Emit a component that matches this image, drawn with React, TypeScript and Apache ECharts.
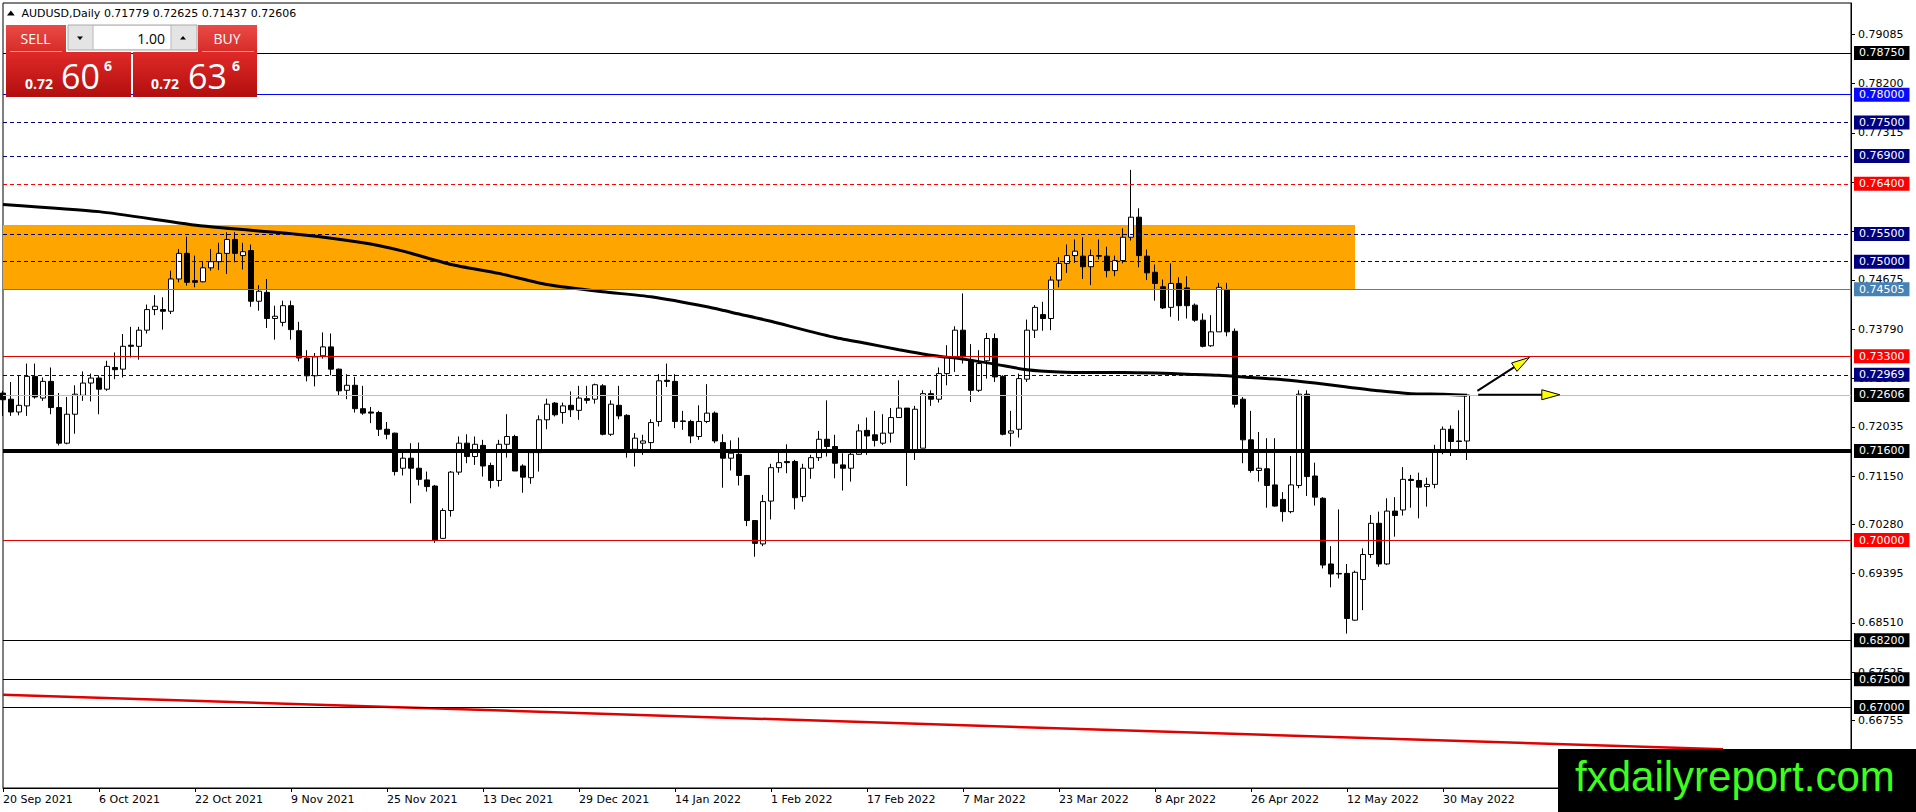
import React, { useEffect, useRef } from "react";
import * as echarts from "echarts";

// ---------------- data ----------------
const symbolName = "AUDUSD";
const timeframe = "Daily";
const bidPrice = 0.72606;
const askPrice = 0.72636;
const lotSize = "1.00";

const xTickLabels = [
  "20 Sep 2021", "6 Oct 2021", "22 Oct 2021", "9 Nov 2021", "25 Nov 2021", "13 Dec 2021",
  "29 Dec 2021", "14 Jan 2022", "1 Feb 2022", "17 Feb 2022", "7 Mar 2022", "23 Mar 2022",
  "8 Apr 2022", "26 Apr 2022", "12 May 2022", "30 May 2022",
];
const barsPerTick = 12;
const totalSlots = 232;

// [open, high, low, close]
const candles: [number, number, number, number][] = [
  [0.7264, 0.7268, 0.7223, 0.7252], [0.7253, 0.7284, 0.7223, 0.7230], [0.7230, 0.7296, 0.7224, 0.7242],
  [0.7241, 0.7317, 0.7223, 0.7294], [0.7294, 0.7317, 0.7254, 0.7257], [0.7255, 0.7292, 0.7250, 0.7285],
  [0.7285, 0.7310, 0.7226, 0.7238], [0.7238, 0.7264, 0.7170, 0.7174], [0.7174, 0.7257, 0.7172, 0.7226],
  [0.7226, 0.7278, 0.7191, 0.7262], [0.7260, 0.7303, 0.7250, 0.7282], [0.7282, 0.7299, 0.7249, 0.7291],
  [0.7291, 0.7296, 0.7226, 0.7271], [0.7271, 0.7322, 0.7268, 0.7312], [0.7310, 0.7337, 0.7289, 0.7306],
  [0.7307, 0.7370, 0.7292, 0.7348], [0.7350, 0.7383, 0.7328, 0.7348], [0.7348, 0.7383, 0.7324, 0.7377],
  [0.7377, 0.7423, 0.7371, 0.7414], [0.7414, 0.7440, 0.7404, 0.7420], [0.7414, 0.7436, 0.7378, 0.7411],
  [0.7411, 0.7484, 0.7406, 0.7469], [0.7469, 0.7523, 0.7463, 0.7515], [0.7515, 0.7545, 0.7457, 0.7463],
  [0.7466, 0.7511, 0.7454, 0.7463], [0.7464, 0.7501, 0.7463, 0.7489], [0.7489, 0.7523, 0.7484, 0.7500],
  [0.7500, 0.7534, 0.7485, 0.7515], [0.7515, 0.7553, 0.7478, 0.7540], [0.7540, 0.7553, 0.7499, 0.7515],
  [0.7511, 0.7534, 0.7486, 0.7518], [0.7520, 0.7531, 0.7419, 0.7429], [0.7429, 0.7458, 0.7412, 0.7447],
  [0.7445, 0.7469, 0.7381, 0.7398], [0.7398, 0.7421, 0.7360, 0.7402], [0.7391, 0.7430, 0.7384, 0.7421],
  [0.7421, 0.7430, 0.7360, 0.7378], [0.7376, 0.7392, 0.7321, 0.7327], [0.7327, 0.7341, 0.7285, 0.7295],
  [0.7295, 0.7336, 0.7276, 0.7329], [0.7331, 0.7373, 0.7326, 0.7347], [0.7347, 0.7371, 0.7296, 0.7307],
  [0.7307, 0.7308, 0.7260, 0.7268], [0.7269, 0.7298, 0.7253, 0.7278], [0.7278, 0.7293, 0.7229, 0.7236],
  [0.7236, 0.7277, 0.7225, 0.7228], [0.7230, 0.7239, 0.7210, 0.7228], [0.7229, 0.7232, 0.7187, 0.7199],
  [0.7199, 0.7212, 0.7181, 0.7190], [0.7192, 0.7193, 0.7116, 0.7123], [0.7129, 0.7159, 0.7116, 0.7147],
  [0.7147, 0.7174, 0.7066, 0.7129], [0.7129, 0.7175, 0.7098, 0.7109], [0.7108, 0.7123, 0.7087, 0.7096],
  [0.7097, 0.7099, 0.6995, 0.7000], [0.7003, 0.7057, 0.7002, 0.7053], [0.7053, 0.7124, 0.7042, 0.7122],
  [0.7122, 0.7186, 0.7117, 0.7174], [0.7174, 0.7190, 0.7138, 0.7150], [0.7150, 0.7186, 0.7135, 0.7172],
  [0.7170, 0.7180, 0.7114, 0.7133], [0.7134, 0.7139, 0.7093, 0.7107], [0.7107, 0.7180, 0.7096, 0.7172],
  [0.7172, 0.7226, 0.7148, 0.7186], [0.7186, 0.7189, 0.7124, 0.7124], [0.7133, 0.7136, 0.7085, 0.7113],
  [0.7112, 0.7162, 0.7101, 0.7157], [0.7157, 0.7224, 0.7123, 0.7216], [0.7216, 0.7254, 0.7199, 0.7244],
  [0.7246, 0.7248, 0.7222, 0.7225], [0.7229, 0.7247, 0.7209, 0.7241], [0.7242, 0.7267, 0.7221, 0.7234],
  [0.7233, 0.7277, 0.7216, 0.7255], [0.7254, 0.7277, 0.7245, 0.7251], [0.7253, 0.7281, 0.7245, 0.7279],
  [0.7277, 0.7280, 0.7188, 0.7190], [0.7190, 0.7251, 0.7187, 0.7244], [0.7242, 0.7277, 0.7217, 0.7223],
  [0.7224, 0.7226, 0.7148, 0.7163], [0.7163, 0.7192, 0.7132, 0.7183], [0.7174, 0.7189, 0.7153, 0.7178],
  [0.7175, 0.7217, 0.7157, 0.7211], [0.7213, 0.7298, 0.7204, 0.7286], [0.7287, 0.7317, 0.7275, 0.7285],
  [0.7285, 0.7298, 0.7201, 0.7213], [0.7214, 0.7232, 0.7198, 0.7213], [0.7213, 0.7216, 0.7174, 0.7187],
  [0.7186, 0.7242, 0.7180, 0.7213], [0.7213, 0.7280, 0.7210, 0.7228], [0.7228, 0.7231, 0.7174, 0.7178],
  [0.7175, 0.7190, 0.7094, 0.7147], [0.7147, 0.7179, 0.7125, 0.7156], [0.7154, 0.7184, 0.7098, 0.7116],
  [0.7116, 0.7117, 0.7025, 0.7035], [0.7035, 0.7036, 0.6970, 0.6994], [0.6993, 0.7081, 0.6989, 0.7069],
  [0.7070, 0.7137, 0.7037, 0.7130], [0.7130, 0.7159, 0.7121, 0.7139], [0.7141, 0.7172, 0.7120, 0.7139],
  [0.7141, 0.7144, 0.7055, 0.7076], [0.7078, 0.7137, 0.7069, 0.7129], [0.7129, 0.7153, 0.7110, 0.7148],
  [0.7148, 0.7196, 0.7142, 0.7181], [0.7181, 0.7251, 0.7150, 0.7168], [0.7168, 0.7189, 0.7111, 0.7138],
  [0.7135, 0.7156, 0.7089, 0.7129], [0.7129, 0.7162, 0.7105, 0.7154], [0.7154, 0.7208, 0.7153, 0.7196],
  [0.7197, 0.7220, 0.7153, 0.7187], [0.7189, 0.7232, 0.7168, 0.7179], [0.7174, 0.7226, 0.7171, 0.7192],
  [0.7192, 0.7237, 0.7175, 0.7220], [0.7220, 0.7287, 0.7220, 0.7237], [0.7237, 0.7237, 0.7097, 0.7162],
  [0.7162, 0.7241, 0.7144, 0.7235], [0.7165, 0.7269, 0.7165, 0.7263], [0.7263, 0.7269, 0.7241, 0.7253],
  [0.7253, 0.7310, 0.7247, 0.7299], [0.7299, 0.7350, 0.7278, 0.7329], [0.7329, 0.7384, 0.7302, 0.7377],
  [0.7377, 0.7443, 0.7317, 0.7329], [0.7323, 0.7352, 0.7248, 0.7269], [0.7269, 0.7341, 0.7266, 0.7317],
  [0.7322, 0.7372, 0.7290, 0.7362], [0.7362, 0.7371, 0.7284, 0.7293], [0.7294, 0.7296, 0.7188, 0.7190],
  [0.7192, 0.7232, 0.7168, 0.7196], [0.7199, 0.7299, 0.7184, 0.7290], [0.7289, 0.7396, 0.7284, 0.7377],
  [0.7377, 0.7422, 0.7363, 0.7418], [0.7405, 0.7428, 0.7376, 0.7398], [0.7398, 0.7474, 0.7377, 0.7467],
  [0.7467, 0.7508, 0.7454, 0.7497], [0.7497, 0.7531, 0.7480, 0.7511], [0.7511, 0.7540, 0.7498, 0.7519],
  [0.7510, 0.7544, 0.7469, 0.7491], [0.7491, 0.7522, 0.7458, 0.7511], [0.7511, 0.7540, 0.7504, 0.7510],
  [0.7510, 0.7527, 0.7472, 0.7484], [0.7484, 0.7511, 0.7474, 0.7502], [0.7502, 0.7560, 0.7497, 0.7544],
  [0.7544, 0.7665, 0.7538, 0.7580], [0.7580, 0.7596, 0.7490, 0.7511], [0.7510, 0.7522, 0.7467, 0.7480],
  [0.7481, 0.7495, 0.7430, 0.7461], [0.7455, 0.7468, 0.7415, 0.7417], [0.7418, 0.7497, 0.7401, 0.7461],
  [0.7461, 0.7472, 0.7394, 0.7421], [0.7453, 0.7474, 0.7398, 0.7421], [0.7422, 0.7425, 0.7392, 0.7395],
  [0.7395, 0.7407, 0.7346, 0.7348], [0.7349, 0.7404, 0.7347, 0.7374], [0.7374, 0.7462, 0.7374, 0.7454],
  [0.7450, 0.7462, 0.7366, 0.7374], [0.7375, 0.7380, 0.7238, 0.7244], [0.7253, 0.7257, 0.7138, 0.7180],
  [0.7180, 0.7232, 0.7121, 0.7125], [0.7125, 0.7194, 0.7105, 0.7129], [0.7128, 0.7183, 0.7058, 0.7098],
  [0.7099, 0.7183, 0.7060, 0.7061], [0.7073, 0.7086, 0.7033, 0.7051], [0.7051, 0.7151, 0.7048, 0.7099],
  [0.7098, 0.7269, 0.7093, 0.7262], [0.7262, 0.7269, 0.7079, 0.7114], [0.7115, 0.7139, 0.7062, 0.7077],
  [0.7075, 0.7077, 0.6949, 0.6955], [0.6957, 0.6989, 0.6915, 0.6939], [0.6940, 0.7055, 0.6931, 0.6939],
  [0.6940, 0.6957, 0.6832, 0.6859], [0.6856, 0.6945, 0.6855, 0.6942], [0.6929, 0.6985, 0.6874, 0.6974],
  [0.6974, 0.7045, 0.6968, 0.7030], [0.7030, 0.7051, 0.6952, 0.6957], [0.6957, 0.7075, 0.6955, 0.7052],
  [0.7052, 0.7077, 0.7006, 0.7044], [0.7054, 0.7131, 0.7044, 0.7109], [0.7109, 0.7117, 0.7058, 0.7107],
  [0.7107, 0.7121, 0.7039, 0.7095], [0.7096, 0.7112, 0.7060, 0.7100], [0.7100, 0.7171, 0.7093, 0.7159],
  [0.7159, 0.7204, 0.7154, 0.7199], [0.7199, 0.7206, 0.7151, 0.7177], [0.7178, 0.7233, 0.7160, 0.7177],
  [0.71779, 0.72625, 0.71437, 0.72606],
];

// moving average read at sample bars: [barIndex, value]
const maPoints: [number, number][] = [
  [0, 0.7603], [12, 0.7590], [25, 0.7564], [37, 0.7549], [45, 0.7534], [50, 0.7519], [56, 0.7495],
  [62, 0.7479], [68, 0.7459], [75, 0.7446], [81, 0.7437], [88, 0.7419], [92, 0.7406], [96, 0.7393],
  [100, 0.7378], [104, 0.7364], [108, 0.7353], [112, 0.7342], [116, 0.7332], [120, 0.7325], [124, 0.7316],
  [128, 0.7306], [132, 0.7302], [136, 0.7301], [140, 0.7301], [144, 0.7300], [148, 0.7298], [152, 0.7296],
  [156, 0.7292], [160, 0.7288], [164, 0.7282], [168, 0.7275], [172, 0.7268], [176, 0.7263], [180, 0.7262],
  [183, 0.7260],
];

const yTicks = [
  0.79085, 0.782, 0.77315, 0.7643, 0.75545, 0.74675, 0.7379, 0.72905, 0.72035, 0.7115, 0.7028,
  0.69395, 0.6851, 0.67625, 0.66755,
];
const yMin = 0.65545;
const yMax = 0.79648;

const levelPrices = [
  0.7875, 0.78, 0.775, 0.769, 0.764, 0.755, 0.75, 0.74505, 0.733, 0.72969, 0.72606, 0.716, 0.7,
  0.682, 0.675, 0.67,
];
const levelKinds = [
  "black", "blue", "navyDash", "navyDash", "redDash", "navyDash", "navyDash", "steel", "red",
  "navyDash", "bid", "thick", "red", "black", "black", "black",
];

const zoneTop = 0.7566;
const zoneBottom = 0.74505;
const zoneStartBar = 0;
const zoneEndBar = 169;

const trendLine: [number, number][] = [
  [0, 0.6722],
  [215, 0.6624],
];

// arrows: [[fromBar, fromPrice], [toBar, toPrice]]
const arrows: [number, number][][] = [
  [[184.3, 0.7268], [190.8, 0.7328]],
  [[184.4, 0.7261], [194.6, 0.7261]],
];

// ---------------- styles ----------------
const kindStyle: Record<string, { line: string; width: number; type: any; tag: string }> = {
  black: { line: "#000000", width: 1, type: "solid", tag: "#000000" },
  blue: { line: "#0000ff", width: 1, type: "solid", tag: "#0a0aff" },
  navyDash: { line: "#000080", width: 1, type: [4, 3], tag: "#000080" },
  redDash: { line: "#ff0000", width: 1, type: [4, 3], tag: "#ff0000" },
  steel: { line: "#4682b4", width: 1, type: "solid", tag: "#4682b4" },
  red: { line: "#e00000", width: 1, type: "solid", tag: "#ff0000" },
  bid: { line: "#c0c0c0", width: 1, type: "solid", tag: "#000000" },
  thick: { line: "#000000", width: 4, type: "solid", tag: "#000000" },
};

const AXIS_FONT = "DejaVu Sans";
const PANEL_FONT = "Open Sans";

export default function App() {
  const ref = useRef<HTMLDivElement>(null);

  useEffect(() => {
    document.body.style.margin = "0";
    if (!ref.current) return;
    const chart = echarts.init(ref.current, undefined, { renderer: "svg" });

    const categories: string[] = [];
    for (let i = 0; i < totalSlots; i++) {
      const k = i / barsPerTick;
      categories.push(i % barsPerTick === 0 && k < xTickLabels.length ? xTickLabels[k] : "");
    }
    const lastLabeled = (xTickLabels.length - 1) * barsPerTick;
    const showTick = (i: number) => i % barsPerTick === 0 && i <= lastLabeled;

    const markLineData = levelPrices.map((p, i) => {
      const s = kindStyle[levelKinds[i]];
      return {
        yAxis: p,
        lineStyle: { color: s.line, width: s.width, type: s.type },
        label: {
          show: true,
          position: "end",
          formatter: p.toFixed(5),
          backgroundColor: s.tag,
          color: "#ffffff",
          fontFamily: AXIS_FONT,
          fontSize: 11,
          lineHeight: 12,
          padding: [1, 5, 1, 5],
          distance: 3,
        },
      };
    });

    const option: any = {
      animation: false,
      backgroundColor: "#ffffff",
      grid: {
        left: 3,
        top: 3,
        width: 1848,
        height: 785,
        show: true,
        borderColor: "#000",
        borderWidth: 1,
        backgroundColor: "transparent",
      },
      xAxis: {
        type: "category",
        data: categories,
        boundaryGap: false,
        axisLine: { show: true, lineStyle: { color: "#000", width: 1 } },
        axisTick: { show: true, interval: (i: number) => showTick(i), length: 4, lineStyle: { color: "#000" } },
        axisLabel: {
          show: true,
          interval: (i: number) => showTick(i),
          align: "left",
          margin: 6,
          color: "#000",
          fontFamily: AXIS_FONT,
          fontSize: 11,
        },
        splitLine: { show: false },
      },
      yAxis: {
        type: "value",
        position: "right",
        min: yMin,
        max: yMax,
        scale: true,
        axisLine: { show: true, lineStyle: { color: "#000" } },
        axisTick: { show: true, length: 4, customValues: yTicks, lineStyle: { color: "#000" } },
        axisLabel: {
          show: true,
          customValues: yTicks,
          formatter: (v: number) => v.toFixed(5),
          margin: 7,
          color: "#000",
          fontFamily: AXIS_FONT,
          fontSize: 11,
        },
        splitLine: { show: false },
      },
      series: [
        {
          type: "line",
          name: "zone",
          data: [],
          z: 1,
          silent: true,
          markArea: {
            silent: true,
            itemStyle: { color: "#ffa500" },
            data: [[{ xAxis: zoneStartBar, yAxis: zoneTop }, { xAxis: zoneEndBar, yAxis: zoneBottom }]],
          },
        },
        {
          type: "line",
          name: "levels",
          data: [],
          z: 2,
          silent: true,
          markLine: {
            silent: true,
            precision: 5,
            symbol: ["none", "none"],
            animation: false,
            data: markLineData,
          },
        },
        {
          type: "candlestick",
          name: symbolName,
          data: candles.map(([o, h, l, c]) => [o, c, l, h]),
          barWidth: 5,
          clip: true,
          z: 3,
          itemStyle: {
            color: "#ffffff",
            color0: "#000000",
            borderColor: "#000000",
            borderColor0: "#000000",
            borderWidth: 1,
          },
        },
        {
          type: "line",
          name: "MA",
          data: maPoints,
          symbol: "none",
          smooth: 0.2,
          z: 4,
          lineStyle: { color: "#000", width: 3 },
        },
        {
          type: "line",
          name: "trend",
          data: trendLine,
          symbol: "none",
          z: 4,
          lineStyle: { color: "#e00000", width: 2.5 },
        },
      ],
    };

    chart.setOption(option);

    const toPx = (x: number, y: number) => {
      const i0 = Math.floor(x);
      const a = chart.convertToPixel({ gridIndex: 0 } as any, [i0, y]) as number[];
      const b = chart.convertToPixel({ gridIndex: 0 } as any, [i0 + 1, y]) as number[];
      const f = x - i0;
      return [a[0] + (b[0] - a[0]) * f, a[1]];
    };

    const elements: any[] = [];

    // arrows
    arrows.forEach(([from, to]) => {
      const p0 = toPx(from[0], from[1]);
      const p1 = toPx(to[0], to[1]);
      const dx = p1[0] - p0[0];
      const dy = p1[1] - p0[1];
      const len = Math.sqrt(dx * dx + dy * dy);
      const ux = dx / len;
      const uy = dy / len;
      const headLen = 18;
      const half = 5;
      const bx = p1[0] - ux * headLen;
      const by = p1[1] - uy * headLen;
      elements.push({
        type: "line",
        z: 100,
        shape: { x1: p0[0], y1: p0[1], x2: bx, y2: by },
        style: { stroke: "#000", lineWidth: 2 },
      });
      elements.push({
        type: "polygon",
        z: 101,
        shape: {
          points: [
            [p1[0], p1[1]],
            [bx - uy * half, by + ux * half],
            [bx + uy * half, by - ux * half],
          ],
        },
        style: { fill: "#ffff00", stroke: "#000", lineWidth: 1 },
      });
    });

    // header
    const last = candles[candles.length - 1];
    elements.push({
      type: "polygon",
      z: 100,
      shape: { points: [[7, 15.5], [14.7, 15.5], [10.9, 10.5]] },
      style: { fill: "#000" },
    });
    elements.push({
      type: "text",
      z: 100,
      x: 21.5,
      y: 13,
      style: {
        text: `${symbolName},${timeframe} ${last[0].toFixed(5)} ${last[1].toFixed(5)} ${last[2].toFixed(5)} ${last[3].toFixed(5)}`,
        fill: "#000",
        font: `11px "${AXIS_FONT}"`,
        verticalAlign: "middle",
        align: "left",
      },
    });

    // trading panel
    const topGrad = () =>
      new echarts.graphic.LinearGradient(0, 0, 0, 1, [
        { offset: 0, color: "#ea4a46" },
        { offset: 1, color: "#d62c29" },
      ]);
    const boxGrad = () =>
      new echarts.graphic.LinearGradient(0, 0, 0, 1, [
        { offset: 0, color: "#df2a28" },
        { offset: 1, color: "#b20e0e" },
      ]);
    elements.push({ type: "rect", z: 110, shape: { x: 6, y: 25, width: 60, height: 27 }, style: { fill: topGrad() } });
    elements.push({ type: "rect", z: 110, shape: { x: 198, y: 25, width: 59, height: 27 }, style: { fill: topGrad() } });
    elements.push({ type: "rect", z: 110, shape: { x: 68, y: 25, width: 129, height: 25 }, style: { fill: "#e4e4e4", stroke: "#a8a8a8", lineWidth: 1 } });
    elements.push({ type: "rect", z: 111, shape: { x: 93, y: 26, width: 78, height: 23 }, style: { fill: "#ffffff" } });
    elements.push({ type: "line", z: 111, shape: { x1: 93, y1: 25, x2: 93, y2: 50 }, style: { stroke: "#b8b8b8", lineWidth: 1 } });
    elements.push({ type: "line", z: 111, shape: { x1: 171, y1: 25, x2: 171, y2: 50 }, style: { stroke: "#b8b8b8", lineWidth: 1 } });
    elements.push({ type: "polygon", z: 112, shape: { points: [[77, 36.5], [83, 36.5], [80, 40]] }, style: { fill: "#000" } });
    elements.push({ type: "polygon", z: 112, shape: { points: [[180, 39.5], [186, 39.5], [183, 36]] }, style: { fill: "#000" } });
    elements.push({ type: "line", z: 111, shape: { x1: 10, y1: 51.5, x2: 62, y2: 51.5 }, style: { stroke: "#f19a98", lineWidth: 1 } });
    elements.push({ type: "line", z: 111, shape: { x1: 202, y1: 51.5, x2: 254, y2: 51.5 }, style: { stroke: "#f19a98", lineWidth: 1 } });
    elements.push({ type: "rect", z: 110, shape: { x: 6, y: 52, width: 125, height: 45 }, style: { fill: boxGrad() } });
    elements.push({ type: "rect", z: 110, shape: { x: 133, y: 52, width: 124, height: 45 }, style: { fill: boxGrad() } });

    const panelText = (text: string, x: number, y: number, size: number, weight: string, fill = "#fff", align = "left") => ({
      type: "text",
      z: 115,
      x,
      y,
      style: {
        text,
        fill,
        font: `${weight} ${size}px "${PANEL_FONT}"`,
        verticalAlign: "middle",
        align,
      },
    });
    const split = (p: number) => {
      const s = p.toFixed(5);
      return [s.slice(0, 4), s.slice(4, 6), s.slice(6)];
    };
    const [bA, bB, bC] = split(bidPrice);
    const [aA, aB, aC] = split(askPrice);
    elements.push(panelText("SELL", 35.5, 38.5, 14, "normal", "#fff", "center"));
    elements.push(panelText("BUY", 227, 38.5, 14, "normal", "#fff", "center"));
    elements.push(panelText(lotSize, 165, 38, 14, "normal", "#000", "right"));
    elements.push(panelText(bA, 25, 83, 14, "bold"));
    elements.push(panelText(bB, 61, 75.5, 34, "normal"));
    elements.push(panelText(bC, 104, 65, 14, "bold"));
    elements.push(panelText(aA, 151, 83, 14, "bold"));
    elements.push(panelText(aB, 188, 75.5, 34, "normal"));
    elements.push(panelText(aC, 232, 65, 14, "bold"));

    // watermark
    elements.push({ type: "rect", z: 120, shape: { x: 1558, y: 749, width: 358, height: 63 }, style: { fill: "#000" } });
    elements.push({
      type: "text",
      z: 121,
      x: 1575,
      y: 776,
      style: {
        text: "fxdailyreport.com",
        fill: "#3cff1e",
        font: `42px "Liberation Sans"`,
        verticalAlign: "middle",
        align: "left",
      },
    });

    chart.setOption({ graphic: { elements } });

    return () => {
      chart.dispose();
    };
  }, []);

  return <div ref={ref} style={{ width: 1916, height: 812, background: "#fff" }} />;
}
